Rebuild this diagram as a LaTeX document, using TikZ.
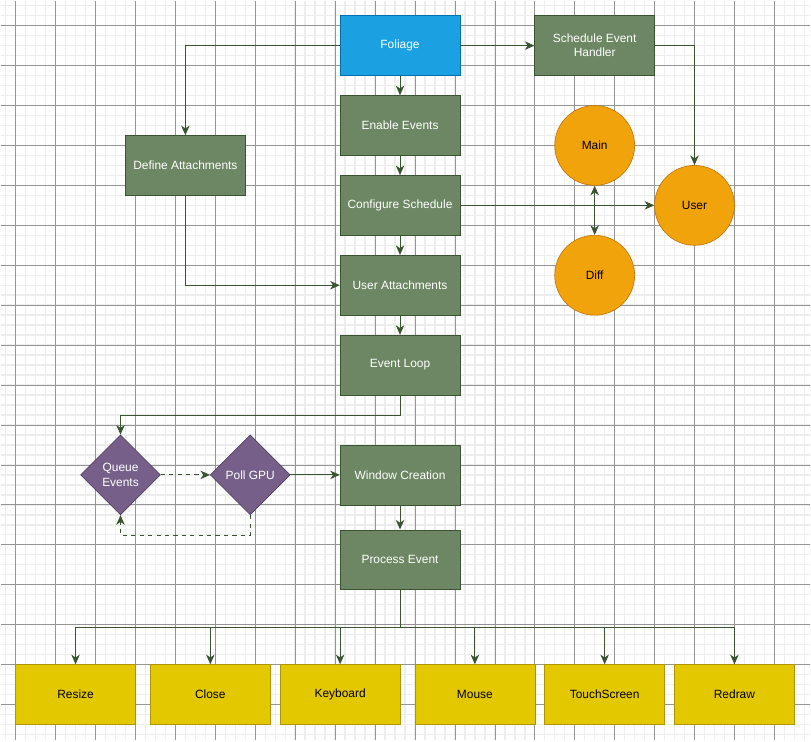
\documentclass[tikz,border=0pt]{standalone}
\usepackage{fontspec}
\setmainfont{Liberation Sans}
\usetikzlibrary{shapes.geometric,arrows.meta,positioning}

\definecolor{minorgrid}{HTML}{EDEDED}
\definecolor{majorgrid}{HTML}{959595}
\definecolor{leaf}{HTML}{1BA1E2}
\definecolor{leafline}{HTML}{006EAF}
\definecolor{moss}{HTML}{6D8764}
\definecolor{mossline}{HTML}{3A5431}
\definecolor{amber}{HTML}{F0A30A}
\definecolor{amberline}{HTML}{BD7000}
\definecolor{plum}{HTML}{76608A}
\definecolor{plumline}{HTML}{432D57}
\definecolor{lemon}{HTML}{E3C800}
\definecolor{lemonline}{HTML}{B09500}

\begin{document}
\begin{tikzpicture}[x=0.025cm, y=-0.025cm,
        font=\fontsize{8.5}{10}\selectfont,
        bluebox/.style={draw=leafline, fill=leaf, text=white, minimum width=3cm, minimum height=1.5cm, align=center},
        greenbox/.style={draw=mossline, fill=moss, text=white, minimum width=3cm, minimum height=1.5cm, align=center},
        yellowbox/.style={draw=lemonline, fill=lemon, text=black, minimum width=3cm, minimum height=1.5cm},
        orangecirc/.style={circle, draw=amberline, fill=amber, text=black, minimum size=2cm},
        purplediam/.style={diamond, draw=plumline, fill=plum, text=white, minimum width=2cm, minimum height=2cm, inner sep=0pt, align=center},
        tip/.tip={Stealth[length=2.4mm, width=2.1mm, inset=0.7mm]},
        link/.style={draw=mossline, line width=0.7pt, -tip}]

        % background grid
        \fill[white] (0,0) rectangle (811,741);
        \foreach \x in {5,15,...,805}
            \draw[minorgrid, line width=1pt] (\x,0) -- (\x,741);
        \foreach \y in {5,15,...,735}
            \draw[minorgrid, line width=1pt] (0,\y) -- (811,\y);
        \foreach \x in {15,55,...,795}
            \draw[majorgrid, line width=0.5pt] (\x,0) -- (\x,741);
        \foreach \y in {25,65,...,705}
            \draw[majorgrid, line width=0.5pt] (0,\y) -- (811,\y);
        \useasboundingbox (0,0) rectangle (811,741);

        % main column
        \node[bluebox] (foliage) at (400,45) {Foliage};
        \node[greenbox] (enable) at (400,125) {Enable Events};
        \node[greenbox] (configure) at (400,205) {Configure Schedule};
        \node[greenbox] (userattach) at (400,285) {User Attachments};
        \node[greenbox] (eventloop) at (400,365) {Event Loop};
        \node[greenbox] (window) at (400,475) {Window Creation};
        \node[greenbox] (process) at (400,560) {Process Event};

        \node[greenbox] (schedule) at (595,45) {Schedule Event\\Handler};
        \node[greenbox] (defineattach) at (185,165) {Define Attachments};

        \node[orangecirc] (mainc) at (595,145) {Main};
        \node[orangecirc] (userc) at (695,205) {User};
        \node[orangecirc] (diffc) at (595,275) {Diff};

        \node[purplediam] (queue) at (120,475) {Queue\\Events};
        \node[purplediam] (pollgpu) at (250,475) {Poll GPU};

        % event kinds
        \node[yellowbox] (resize) at (75,695) {Resize};
        \node[yellowbox] (close) at (210,695) {Close};
        \node[yellowbox] (keyboard) at (340,695) {Keyboard};
        \node[yellowbox] (mouse) at (475,695) {Mouse};
        \node[yellowbox] (touch) at (605,695) {TouchScreen};
        \node[yellowbox] (redraw) at (735,695) {Redraw};

        % connectors
        \draw[link] (foliage) -- (enable);
        \draw[link] (enable) -- (configure);
        \draw[link] (configure) -- (userattach);
        \draw[link] (userattach) -- (eventloop);
        \draw[link] (window) -- (process);
        \draw[link] (foliage) -- (schedule);
        \draw[link] (foliage.west) -| (defineattach.north);
        \draw[link] (schedule.east) -| (userc.north);
        \draw[link] (configure.east) -- (userc.west);
        \draw[link, tip-tip] (mainc) -- (diffc);
        \draw[link] (defineattach.south) |- (userattach.west);
        \draw[link] (eventloop.south) -- ++(0,20) -| (queue.north);
        \draw[link, dashed] (queue.east) -- (pollgpu.west);
        \draw[link] (pollgpu.east) -- (window.west);
        \draw[link, dashed] (pollgpu.south) -- ++(0,20) -| (queue.south);

        \draw[mossline, line width=0.7pt] (process.south) -- ++(0,38) coordinate (fan);
        \foreach \n in {resize,close,keyboard,mouse,touch,redraw}
        {
            \draw[link] (fan) -| (\n.north);
        }
\end{tikzpicture}
\end{document}
